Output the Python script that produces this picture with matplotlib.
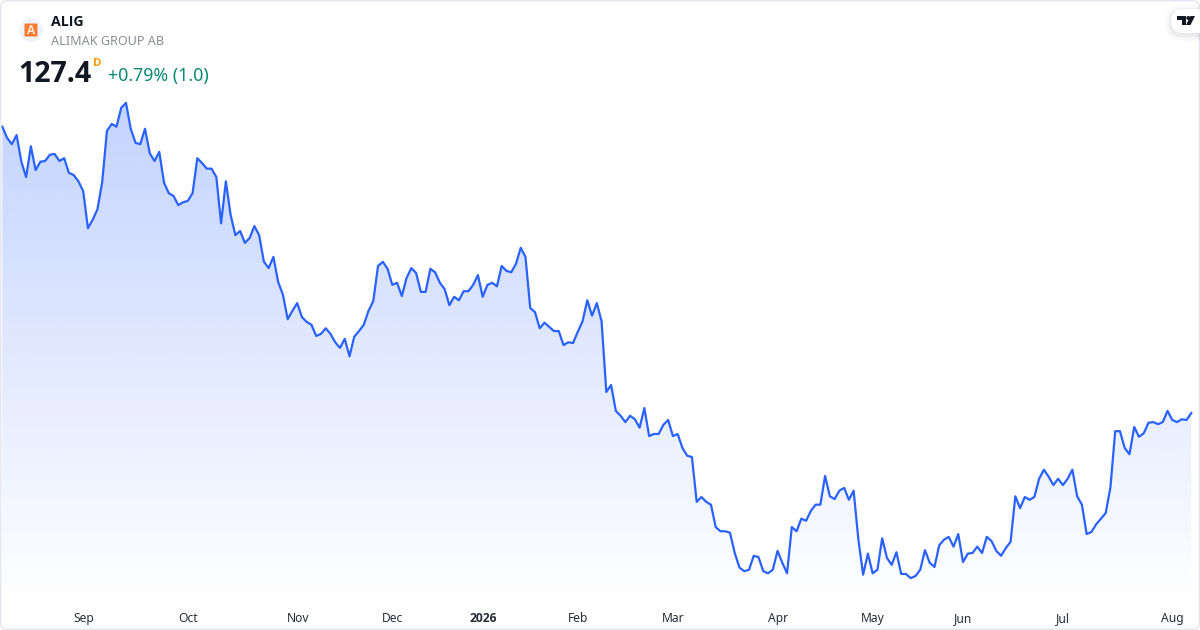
import numpy as np
import matplotlib
matplotlib.use("Agg")
import matplotlib.pyplot as plt
from matplotlib.patches import FancyBboxPatch, Circle, Polygon
from matplotlib import font_manager as fm

plt.rcParams['font.family'] = ['Noto Sans', 'DejaVu Sans']

# pick a sans family that really ships a bold face
BOLD_FAMILY = None
for fam in ["Noto Sans", "Open Sans", "Inter", "Lato", "Roboto"]:
    p = fm.findfont(fm.FontProperties(family=fam, weight="bold"), fallback_to_default=False)
    if "bold" in p.lower():
        BOLD_FAMILY = fam
        break
BOLD_FAMILY = BOLD_FAMILY or "DejaVu Sans"

symbol = "ALIG"
company = "ALIMAK GROUP AB"
last_price = "127.4"
interval = "D"
change_text = "+0.79% (1.0)"

closes = [
 168.3,166.7,165.8,167.1,163.3,161.1,165.5,162.1,163.3,163.4,
 164.3,164.4,163.4,163.8,161.7,161.4,160.5,159.1,153.8,155.0,
 156.5,160.4,167.7,168.7,168.3,171.0,171.7,168.0,166.0,165.8,
 168.0,164.5,163.4,164.7,160.3,158.8,158.4,157.1,157.5,157.7,
 158.8,163.8,163.1,162.3,162.3,161.1,154.5,160.5,155.7,152.8,
 153.4,151.7,152.4,154.1,152.8,149.0,148.1,149.7,146.1,144.3,
 140.8,142.0,143.1,141.1,140.4,140.0,138.4,138.7,139.5,138.7,
 137.5,136.7,138.0,135.5,138.3,139.1,140.0,142.0,143.4,148.4,
 149.0,148.0,145.7,146.0,144.1,146.7,148.1,147.4,144.7,144.7,
 148.0,147.5,146.0,145.1,142.8,144.0,143.5,144.8,144.8,145.7,
 147.1,144.0,145.7,146.0,145.5,148.4,147.7,147.5,148.7,151.0,
 149.7,142.4,141.8,139.5,140.3,139.7,139.1,139.1,137.1,137.5,
 137.4,139.0,140.5,143.5,141.3,143.1,140.5,130.4,131.4,127.7,
 127.0,126.1,127.0,126.5,125.3,128.1,124.1,124.4,124.4,125.7,
 126.4,124.1,124.4,122.4,121.3,121.1,114.7,115.4,114.7,114.3,
 111.1,110.5,110.5,110.3,107.4,105.3,104.8,105.0,107.0,106.8,
 104.8,104.5,105.0,107.7,106.0,104.5,111.1,110.5,112.3,112.0,
 113.4,114.3,114.3,118.4,115.5,115.1,116.3,116.7,115.0,116.3,
 109.3,104.3,107.3,104.5,105.0,109.5,106.7,105.7,107.5,104.4,
 104.4,103.8,104.1,105.0,107.8,106.0,105.4,108.5,109.3,109.7,
 108.3,110.1,106.1,107.3,107.4,108.3,107.4,109.7,109.1,107.7,
 107.0,108.1,109.0,115.5,113.8,115.4,115.0,115.4,118.0,119.3,
 118.3,117.1,118.0,117.1,118.0,119.3,115.5,114.3,110.1,110.4,
 111.5,112.3,113.1,116.8,124.8,124.8,122.4,121.5,125.4,124.0,
 124.5,126.0,126.1,125.8,126.1,127.7,126.4,126.1,126.5,126.4,
 127.4,
]
tick_index = [17.1, 39, 62.1, 82, 101.1, 121.1, 141.1, 163.1, 183.1, 202.1, 223.1, 246.1]
tick_labels = ["Sep", "Oct", "Nov", "Dec", "2026", "Feb", "Mar", "Apr", "May", "Jun", "Jul", "Aug"]

W, H = 1200, 630
PANE_BOTTOM = 604
fig = plt.figure(figsize=(W / 100, H / 100), dpi=100, facecolor="white")

# Main price pane
ax = fig.add_axes([0, 1 - PANE_BOTTOM / H, 1, PANE_BOTTOM / H])
idx = np.arange(len(closes))
values = np.array(closes)
ax.set_xlim(-0.49, 251.83)
ax.set_ylim(100.11, 186.4)
for s in ax.spines.values():
    s.set_visible(False)
ax.set_yticks([])
ax.set_xticks(tick_index)
ax.set_xticklabels(tick_labels, fontsize=8.7, color="#2a2e39")
ax.tick_params(axis="x", length=0, pad=5.6)
for lab in ax.get_xticklabels():
    if lab.get_text() == "2026":
        lab.set_fontweight("bold")
        lab.set_family(BOLD_FAMILY)

# Gradient area below the line
y_hi, y_lo = values.max(), ax.get_ylim()[0]
levels = np.linspace(0, 1, 256)[:, None]
rgba = np.zeros((256, 1, 4))
rgba[..., 0] = 41 / 255
rgba[..., 1] = 98 / 255
rgba[..., 2] = 1.0
rgba[..., 3] = 0.28 * (1 - levels)
xl, yl = ax.get_xlim(), ax.get_ylim()
poly = ax.fill_between(idx, values, y_lo, facecolor="none", edgecolor="none")
im = ax.imshow(rgba, extent=[xl[0], xl[1], y_lo, y_hi], origin="upper",
               aspect="auto", interpolation="bilinear", zorder=1)
im.set_clip_path(poly.get_paths()[0], transform=ax.transData)
ax.set_xlim(xl)
ax.set_ylim(yl)

ax.plot(idx, values, color="#2962FF", lw=1.6, solid_joinstyle="round", zorder=3)

# Overlay in pixel coordinates: legend, logos and card frame
ov = fig.add_axes([0, 0, 1, 1], facecolor="none")
ov.set_xlim(0, W)
ov.set_ylim(H, 0)
ov.axis("off")

ov.add_patch(FancyBboxPatch((0.8, 0.8), W - 1.6, H - 1.6, boxstyle="round,pad=0,rounding_size=6",
                            fc="none", ec="#e4e6ec", lw=1.0, zorder=10))

# Symbol logo
ov.add_patch(Circle((31, 30), 12, fc="#f0f3fa", ec="none"))
ov.add_patch(FancyBboxPatch((24.5, 23.5), 13, 13, boxstyle="round,pad=0,rounding_size=1",
                            fc="#f97b2f", ec="none"))
ov.text(31, 30.6, "A", color="#fde6d6", fontsize=8.5, family=BOLD_FAMILY, fontweight="bold",
        ha="center", va="center")

# Legend
ov.text(51, 26.5, symbol, color="#131722", fontsize=10.2, family=BOLD_FAMILY, fontweight="bold", va="baseline")
ov.text(51, 45, company, color="#8a8d96", fontsize=9.1, va="baseline")
ov.text(18.3, 82, last_price, color="#131722", fontsize=20.5, family=BOLD_FAMILY, fontweight="bold", va="baseline")
ov.text(93, 65.5, interval, color="#ff9800", fontsize=8.2, family=BOLD_FAMILY, fontweight="bold", va="baseline")
ov.text(108, 81, change_text, color="#0a8a72", fontsize=12.8, va="baseline")

# Watermark pill with soft shadow
for grow, a in [(7, 0.012), (5, 0.016), (3, 0.022), (1.5, 0.03)]:
    ov.add_patch(FancyBboxPatch((1171 - grow, 9 - grow + 2), 60 + 2 * grow, 24 + 2 * grow,
                                boxstyle="round,pad=0,rounding_size=%g" % (12 + grow),
                                fc="black", ec="none", alpha=a, zorder=11))
ov.add_patch(FancyBboxPatch((1171, 9), 60, 24, boxstyle="round,pad=0,rounding_size=12",
                            fc="white", ec="none", zorder=12))
ov.add_patch(Polygon([(1177, 16), (1186, 16), (1186, 25), (1181.5, 25), (1181.5, 20), (1177, 20)],
                     closed=True, fc="#131722", ec="none", zorder=13))
ov.add_patch(Circle((1188.3, 18), 2, fc="#131722", ec="none", zorder=13))
ov.add_patch(Polygon([(1190.5, 16), (1195, 16), (1190.5, 25), (1186, 25)],
                     closed=True, fc="#131722", ec="none", zorder=13))

fig.savefig("out.png", dpi=100, facecolor="white")
